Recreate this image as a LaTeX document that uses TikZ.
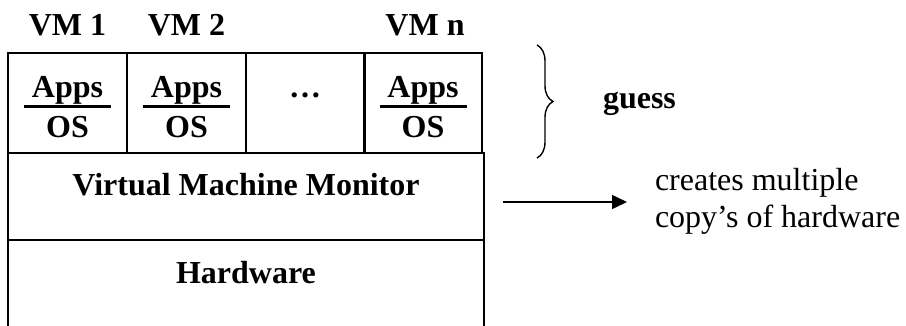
\documentclass[tikz,border=0pt]{standalone}
\usepackage{fontspec}
\setmainfont{Liberation Serif}
\usetikzlibrary{decorations.pathreplacing,arrows.meta,calc}
\begin{document}
\begin{tikzpicture}[x=1pt,y=-1pt,
  every node/.style={inner sep=0pt, outer sep=0pt},
  frame/.style={draw, line width=2pt},
  vmbox/.style={frame, minimum width=119pt, minimum height=100pt},
  layer/.style={frame, minimum width=476pt},
  bigtxt/.style={font=\fontsize{32}{37}\selectfont\bfseries},
  note/.style={font=\fontsize{32}{37}\selectfont},
  rulestyle/.style={line width=3pt},
  bracestyle/.style={line width=1.4pt, decorate, decoration={brace, amplitude=16pt}},
  arrowstyle/.style={line width=1.5pt, -{Triangle[length=15pt,width=14pt]}}]
\clip (0,0) rectangle (906,325);
\fill[white] (0,0) rectangle (906,325);
% VM boxes
\node[vmbox] (b1) at (67.5,103) {};
\node[vmbox] (b2) at (186.5,103) {};
\node[vmbox] (b3) at (305,103) {};
\node[vmbox, minimum width=118pt] (b4) at (423,103) {};
% layers
\node[layer, minimum height=87pt] (vmm) at (246,196.5) {};
\node[layer, minimum height=110pt] (hw) at (246,295) {};
% VM labels
\node[bigtxt, anchor=base] (l1) at (67.5,35) {VM 1};
\node[bigtxt, anchor=base] (l2) at (186.5,35) {VM 2};
\node[bigtxt, anchor=base] (ln) at (425,35) {VM n};
% box contents
\foreach \b in {b1,b2,b4}{
  \node[bigtxt, anchor=base] (\b apps) at ($(\b.center)+(0,-6)$) {Apps};
  \node[bigtxt, anchor=base] (\b os) at ($(\b.center)+(0,34)$) {OS};
  \draw[rulestyle] ($(\b.center)+(-43.5,3)$) -- ($(\b.center)+(43.5,3)$);
}
\node[bigtxt, anchor=base] (dots) at ($(b3.center)+(0,-6)$) {…};
% layer labels
\node[bigtxt, anchor=base] (vmmt) at (246,195) {Virtual Machine Monitor};
\node[bigtxt, anchor=base] (hwt) at (246,283) {Hardware};
% brace
\coordinate (br1) at (537,45);
\coordinate (br2) at (537,158);
\draw[bracestyle] (br1) -- (br2);
\node[bigtxt, anchor=base west] (guess) at (603,108) {guess};
% arrow
\coordinate (a1) at (503,202);
\coordinate (a2) at (627,202);
\draw[arrowstyle] (a1) -- (a2);
\node[note, anchor=base west] (n1) at (655,190) {creates multiple};
\node[note, anchor=base west] (n2) at (655,227) {copy’s of hardware};
\end{tikzpicture}
\end{document}
